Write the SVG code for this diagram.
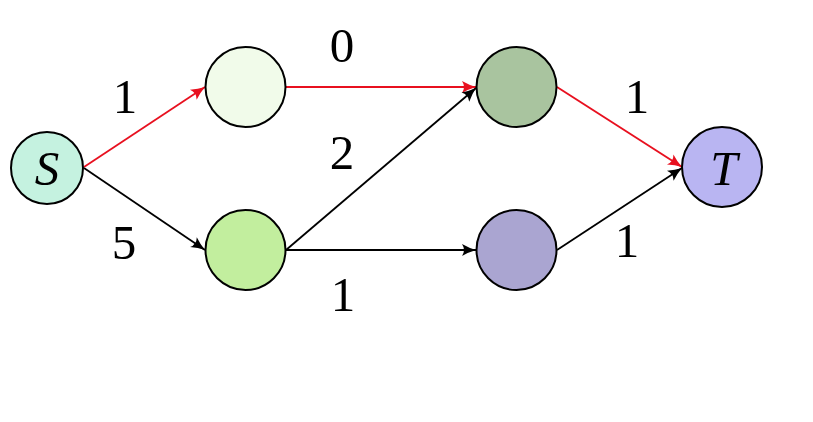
<svg xmlns="http://www.w3.org/2000/svg" width="813" height="422" viewBox="0 0 813 422">
<defs>
<style>
.node{stroke:#000;stroke-width:2}
.e{fill:none;stroke-width:1.8}
.blk{stroke:#000}
.red{stroke:#e8101f}
.lbl{font-family:"Liberation Serif","DejaVu Serif",serif;font-size:49px;fill:#000;text-anchor:middle}
.it{font-style:italic}
</style>
<marker id="ab" viewBox="-15 -7 16 14" refX="0" refY="0" markerWidth="16" markerHeight="14" markerUnits="userSpaceOnUse" orient="auto">
<path d="M0,0 Q-7,-2 -14,-6 Q-10,0 -14,6 Q-7,2 0,0 Z" fill="#000"/>
</marker>
<marker id="ar" viewBox="-15 -7 16 14" refX="0" refY="0" markerWidth="16" markerHeight="14" markerUnits="userSpaceOnUse" orient="auto">
<path d="M0,0 Q-7,-2 -14,-6 Q-10,0 -14,6 Q-7,2 0,0 Z" fill="#e8101f"/>
</marker>
</defs>
<rect width="813" height="422" fill="#fff"/>
<g id="edges">
<line class="e red" x1="84" y1="167" x2="205" y2="87" marker-end="url(#ar)"/>
<line class="e blk" x1="84" y1="168" x2="205" y2="250" marker-end="url(#ab)"/>
<line class="e red" x1="286" y1="87" x2="476" y2="87" marker-end="url(#ar)"/>
<line class="e blk" x1="286" y1="250" x2="476" y2="88" marker-end="url(#ab)"/>
<line class="e blk" x1="286" y1="250" x2="476" y2="250" marker-end="url(#ab)"/>
<line class="e red" x1="557" y1="87" x2="682" y2="167" marker-end="url(#ar)"/>
<line class="e blk" x1="557" y1="250" x2="682" y2="168" marker-end="url(#ab)"/>
</g>
<g id="S"><circle class="node" cx="47" cy="168" r="36" fill="#c5f2e0"/><text class="lbl it" x="47" y="185">S</text></g>
<g id="A"><circle class="node" cx="245.5" cy="87" r="40" fill="#f1fbea"/></g>
<g id="B"><circle class="node" cx="245.5" cy="250" r="40" fill="#c2ee9e"/></g>
<g id="C"><circle class="node" cx="516.5" cy="87" r="40" fill="#a9c49f"/></g>
<g id="D"><circle class="node" cx="516.5" cy="250" r="40" fill="#aaa5d1"/></g>
<g id="T"><circle class="node" cx="722" cy="167" r="40" fill="#b9b5f2"/><text class="lbl it" x="724" y="185">T</text></g>
<g id="labels">
<text class="lbl" x="125" y="113">1</text>
<text class="lbl" x="342" y="62">0</text>
<text class="lbl" x="342" y="169">2</text>
<text class="lbl" x="124" y="259">5</text>
<text class="lbl" x="343" y="311">1</text>
<text class="lbl" x="637" y="113">1</text>
<text class="lbl" x="627" y="257">1</text>
</g>
</svg>
